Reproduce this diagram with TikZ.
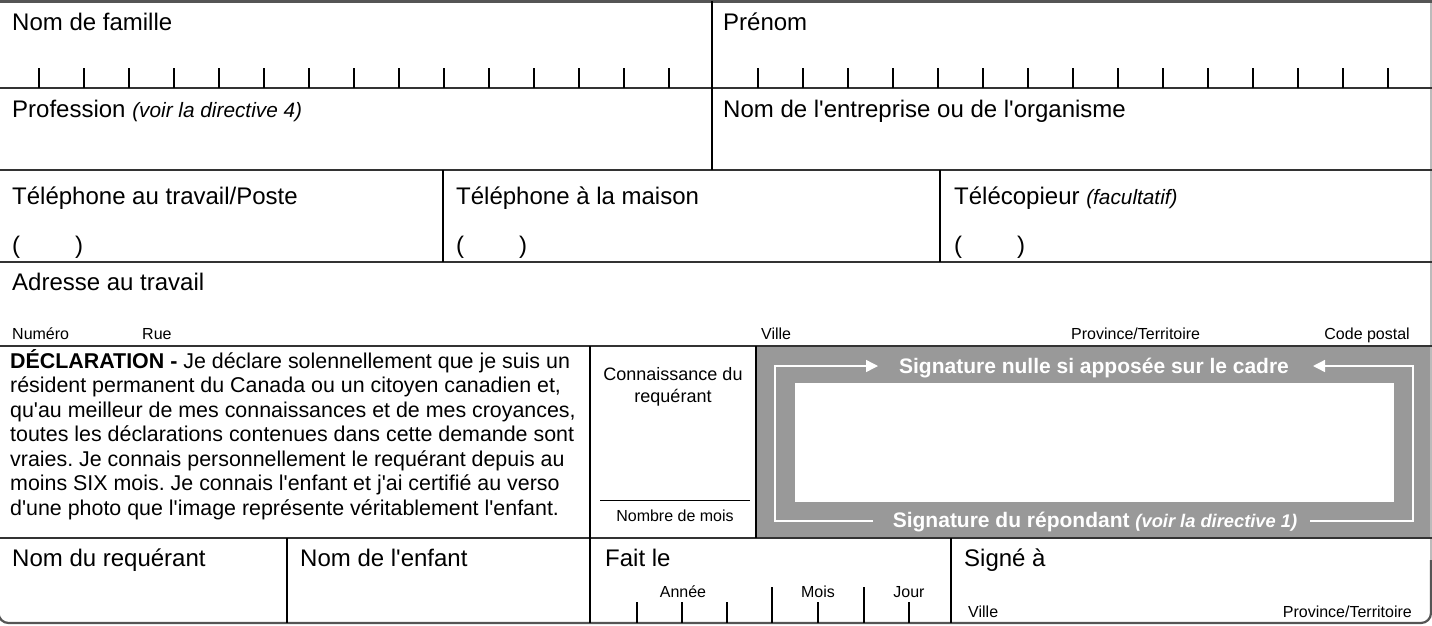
\documentclass[tikz,border=0pt]{standalone}
\usepackage{fontspec}
\setmainfont{Liberation Sans}[Ligatures=TeXOff]
\usetikzlibrary{arrows.meta}
\definecolor{sigfill}{HTML}{999999}
\definecolor{rulegray}{HTML}{333333}
\definecolor{bordgray}{HTML}{555555}
\definecolor{edgegray}{HTML}{BBBBBB}
\frenchspacing
\begin{document}
\begin{tikzpicture}[x=1pt,y=-1pt,
  hdr/.style={anchor=base west,inner sep=0pt,font=\fontsize{24}{28}\selectfont},
  sml/.style={anchor=base west,inner sep=0pt,font=\fontsize{16}{19}\selectfont},
  smlc/.style={anchor=base,inner sep=0pt,font=\fontsize{16}{19}\selectfont},
  decl/.style={anchor=base west,inner sep=0pt,font=\fontsize{21.4}{24}\selectfont},
  conn/.style={anchor=base,inner sep=0pt,font=\fontsize{18}{21}\selectfont},
  sigtxt/.style={anchor=base,inner sep=0pt,text=white,font=\fontsize{21}{24}\selectfont\bfseries},
  rowrule/.style={line width=1.6pt,rulegray},
  colrule/.style={line width=1.3pt,black},
  tickmark/.style={line width=1.2pt,black},
  wline/.style={white,line width=1.4pt},
  warrow/.style={wline,-{Triangle[length=12pt,width=12pt]}},
]
\useasboundingbox (0,0) rectangle (1432,625);
\fill[white] (0,0) rectangle (1432,625);

% signature area
\fill[sigfill] (756,346) rectangle (1431,538);
\fill[white] (795,383) rectangle (1394,502);
\draw[warrow] (873,521) -- (775,521) -- (775,366) -- (878,366);
\draw[warrow] (1310,521) -- (1413,521) -- (1413,366) -- (1313,366);
\node[sigtxt] (sigtop) at (1094,373) {Signature nulle si apposée sur le cadre};
\node[sigtxt] (sigbot) at (1095,527) {Signature du répondant {\fontsize{18.3}{22}\selectfont\itshape(voir la directive 1)}};

% outer frame
\draw[line width=1.2pt,edgegray] (1431,0) -- (1431,612);
\draw[line width=2.6pt,bordgray] (0,1.3) -- (1432,1.3);
\draw[line width=2.2pt,bordgray,rounded corners=10pt] (-1.5,560) -- (-1.5,623) -- (1431,623) -- (1431,560);

% row rules
\draw[rowrule] (0,88) -- (1432,88);
\draw[rowrule] (0,170) -- (1432,170);
\draw[rowrule] (0,262) -- (1432,262);
\draw[rowrule] (0,346) -- (1432,346);
\draw[rowrule] (0,538) -- (1432,538);

% column rules
\draw[colrule] (712,1) -- (712,170);
\draw[colrule] (443,170) -- (443,262);
\draw[colrule] (940,170) -- (940,262);
\draw[colrule] (590,346) -- (590,623);
\draw[colrule] (756,346) -- (756,538);
\draw[colrule] (287,538) -- (287,623);
\draw[colrule] (951,538) -- (951,623);

% letter ticks
\foreach \i in {0,...,14} {
  \draw[tickmark] ({39+45*\i},68) -- ({39+45*\i},88);
  \draw[tickmark] ({758+45*\i},68) -- ({758+45*\i},88);
}
% date ticks
\foreach \x in {637,682,727,818,909} \draw[tickmark] (\x,602) -- (\x,623);
\foreach \x in {772,864} \draw[tickmark] (\x,587) -- (\x,623);

% row 1-2
\node[hdr] (famille) at (12,30) {Nom de famille};
\node[hdr] (prenom) at (723,30) {Prénom};
\node[hdr] (prof) at (12,117) {Profession {\fontsize{20.8}{24}\selectfont\itshape (voir la directive 4)}};
\node[hdr] (entreprise) at (723,117) {Nom de l'entreprise ou de l'organisme};

% row 3
\node[hdr] (teltrav) at (12,204) {Téléphone au travail/Poste};
\node[hdr] (telmai) at (456,204) {Téléphone à la maison};
\node[hdr] (telec) at (954,204) {Télécopieur {\fontsize{20.8}{24}\selectfont\itshape (facultatif)}};
\node[hdr] (pa1) at (12,253) {(};
\node[hdr] (pb1) at (75,253) {)};
\node[hdr] (pa2) at (456,253) {(};
\node[hdr] (pb2) at (519,253) {)};
\node[hdr] (pa3) at (954,253) {(};
\node[hdr] (pb3) at (1017,253) {)};

% row 4
\node[hdr] (adresse) at (12,290) {Adresse au travail};
\node[sml] (numero) at (12,339) {Numéro};
\node[sml] (rue) at (142,339) {Rue};
\node[sml] (ville) at (761,339) {Ville};
\node[sml] (prov) at (1071,339) {Province/Territoire};
\node[sml,anchor=base east] (code) at (1410,339) {Code postal};

% declaration
\node[decl] (d1) at (10,368) {\textbf{DÉCLARATION -} Je déclare solennellement que je suis un};
\node[decl] (d2) at (10,392.5) {résident permanent du Canada ou un citoyen canadien et,};
\node[decl] (d3) at (10,417) {qu'au meilleur de mes connaissances et de mes croyances,};
\node[decl] (d4) at (10,441.5) {toutes les déclarations contenues dans cette demande sont};
\node[decl] (d5) at (10,466) {vraies. Je connais personnellement le requérant depuis au};
\node[decl] (d6) at (10,490.5) {moins SIX mois. Je connais l'enfant et j'ai certifié au verso};
\node[decl] (d7) at (10,515) {d'une photo que l'image représente véritablement l'enfant.};

\node[conn] (conn1) at (673,380) {Connaissance du};
\node[conn] (conn2) at (673,402) {requérant};
\draw[line width=1.2pt] (600,500.5) -- (750,500.5);
\node[smlc] (nbmois) at (675,521) {Nombre de mois};

% row 6
\node[hdr] (requerant) at (12,566) {Nom du requérant};
\node[hdr] (enfant) at (300,566) {Nom de l'enfant};
\node[hdr] (faitle) at (605,566) {Fait le};
\node[hdr] (signe) at (964,566) {Signé à};
\node[smlc] (annee) at (683,597) {Année};
\node[smlc] (mois) at (818,597) {Mois};
\node[smlc] (jour) at (909,597) {Jour};
\node[sml] (ville2) at (968,617) {Ville};
\node[sml,anchor=base east] (prov2) at (1412,617) {Province/Territoire};
\end{tikzpicture}
\end{document}
